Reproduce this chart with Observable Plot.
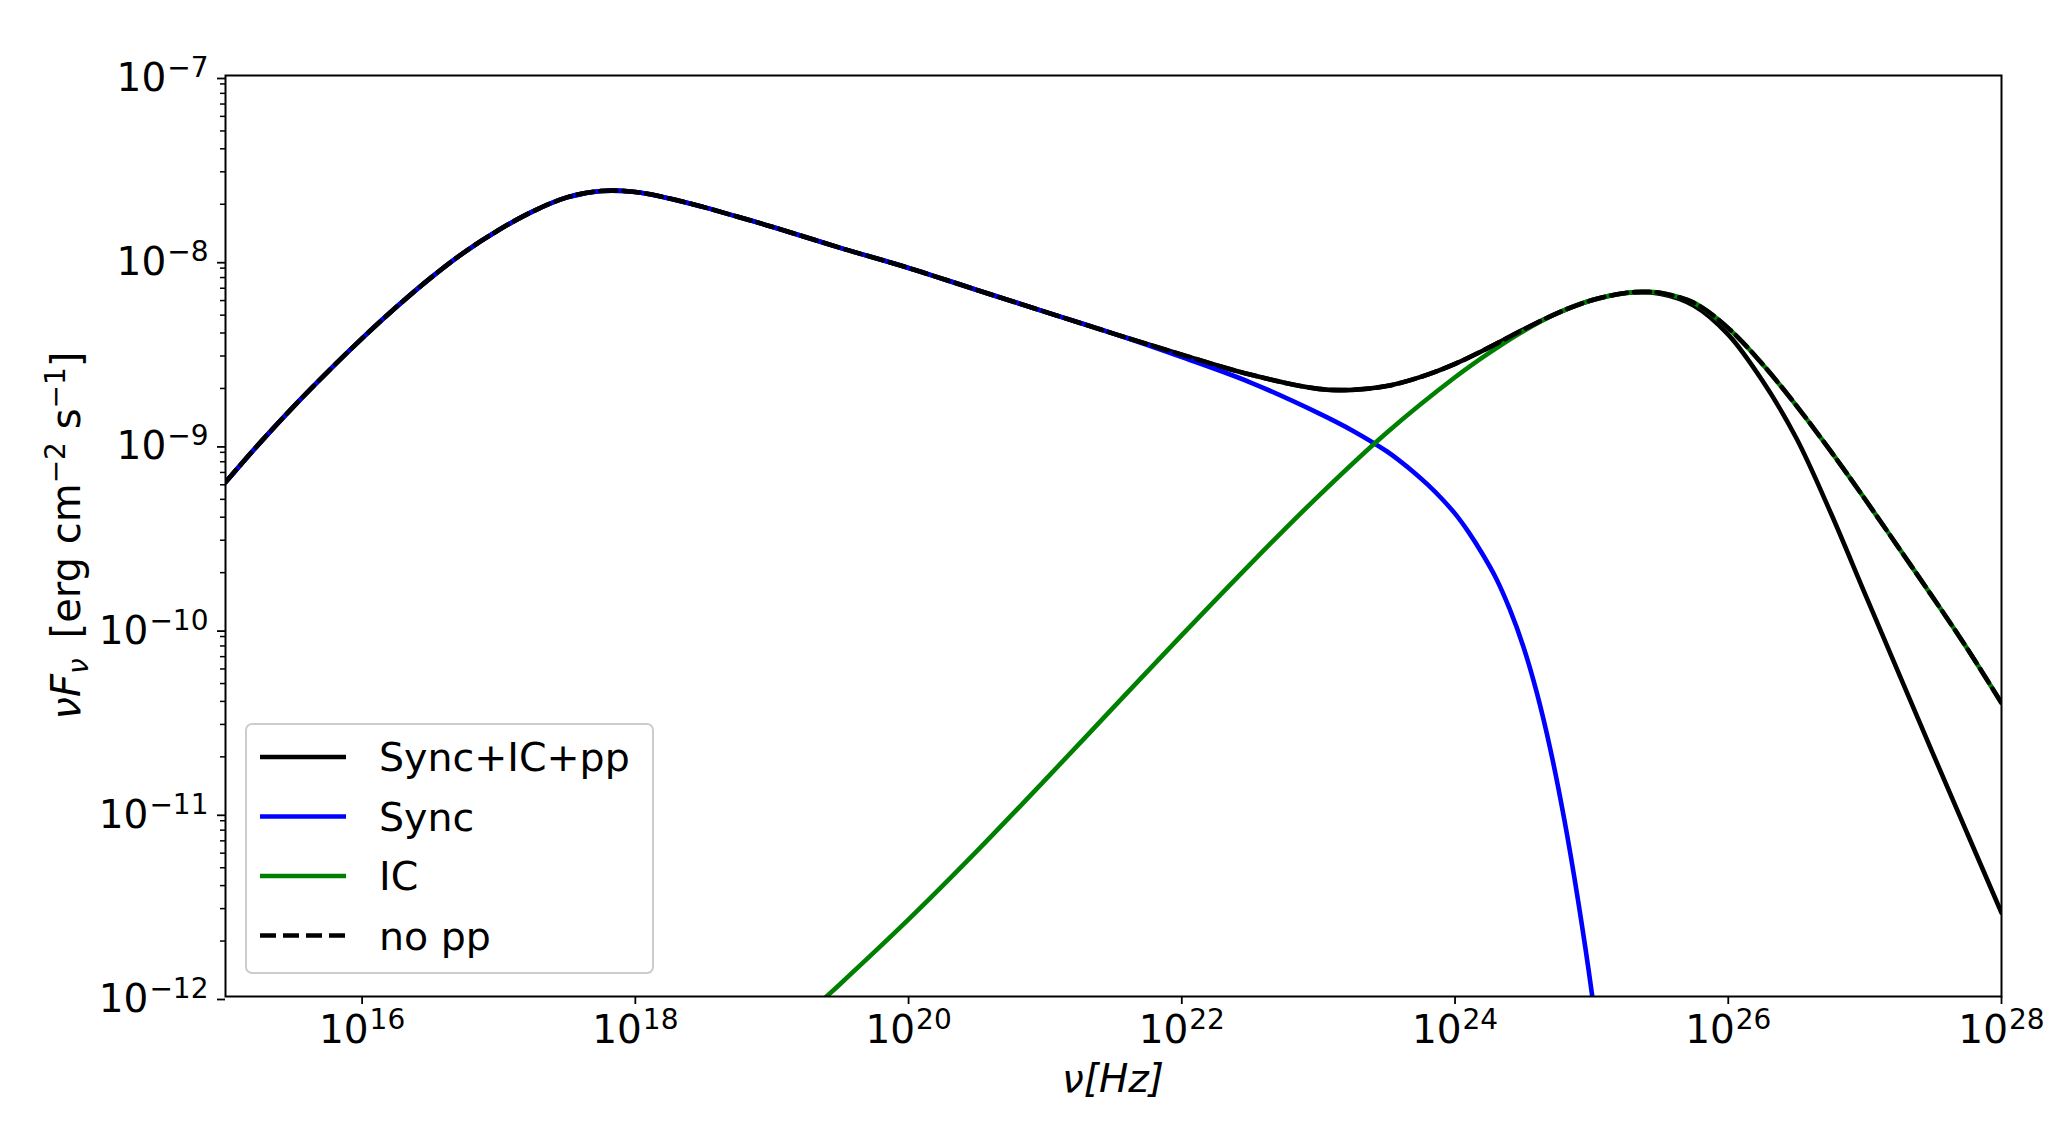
<!DOCTYPE html>
<html>
<head>
<meta charset="utf-8">
<script src="https://cdn.jsdelivr.net/npm/d3@7"></script>
<script src="https://cdn.jsdelivr.net/npm/@observablehq/plot@0.6"></script>
<style>
  html, body { margin: 0; padding: 0; background: #ffffff; }
  #chart { width: 2064px; height: 1128px; }
</style>
</head>
<body>
<div id="chart"></div>
<script>
// ---- axis ticks ----
const xTicks = [1e16, 1e18, 1e20, 1e22, 1e24, 1e26, 1e28];
const yTicks = [1e-12, 1e-11, 1e-10, 1e-9, 1e-8, 1e-7];
const yMinorMantissas = [2, 3, 4, 5, 6, 7, 8, 9];

// ---- series: Sync (blue) ----
const nuSync = [1e15, 1.78e15, 3.16e15, 5.62e15, 1e16, 1.78e16, 3.16e16, 5.62e16, 1e17, 1.78e17, 3.16e17, 5.62e17,
  1e18, 1.78e18, 3.16e18, 5.62e18, 1e19, 3.16e19, 1e20, 3.16e20, 1e21, 3.16e21, 1e22, 3.16e22, 1e23, 1.78e23,
  3.16e23, 3.98e23, 5.01e23, 6.31e23, 7.94e23, 1e24, 1.26e24, 1.58e24, 2.0e24, 2.51e24, 3.16e24, 3.98e24,
  5.01e24, 6.31e24, 7.94e24, 1e25, 1.12e25];
const sync = [6.19e-10, 1.01e-9, 1.60e-9, 2.47e-9, 3.74e-9, 5.53e-9, 7.94e-9, 1.10e-8, 1.45e-8, 1.83e-8, 2.18e-8, 2.36e-8,
  2.33e-8, 2.15e-8, 1.93e-8, 1.71e-8, 1.51e-8, 1.16e-8, 9.02e-9, 6.85e-9, 5.21e-9, 3.97e-9, 2.96e-9, 2.16e-9, 1.47e-9, 1.18e-9,
  9.12e-10, 8.04e-10, 7.00e-10, 6.01e-10, 5.07e-10, 4.18e-10, 3.31e-10, 2.54e-10, 1.86e-10, 1.27e-10, 7.94e-11, 4.42e-11,
  2.16e-11, 9.12e-12, 3.35e-12, 1.06e-12, 5.31e-13];

// ---- series: IC (green) ----
const nuIC = [2.0e19, 3.16e19, 1e20, 3.16e20, 1e21, 3.16e21, 1e22, 3.16e22, 1e23, 3.16e23, 1e24, 1.78e24, 3.16e24,
  5.62e24, 1e25, 1.78e25, 2.51e25, 3.16e25, 5.62e25, 1e26, 1.78e26, 3.16e26, 5.62e26, 1e27, 1.78e27, 3.16e27, 5.62e27, 1e28];
const ic = [8.59e-13, 1.17e-12, 2.62e-12, 6.15e-12, 1.50e-11, 3.71e-11, 9.16e-11, 2.22e-10, 5.21e-10, 1.15e-9, 2.30e-9, 3.12e-9, 4.09e-9,
  5.12e-9, 6.02e-9, 6.60e-9, 6.69e-9, 6.61e-9, 5.83e-9, 4.25e-9, 2.71e-9, 1.61e-9, 9.13e-10, 5.02e-10, 2.71e-10, 1.46e-10, 7.73e-11, 3.92e-11];

// ---- series: Sync+IC+pp (black solid) ----
const nuTotal = [1e15, 1.78e15, 3.16e15, 5.62e15, 1e16, 1.78e16, 3.16e16, 5.62e16, 1e17, 1.78e17, 3.16e17, 5.62e17,
  1e18, 1.78e18, 3.16e18, 5.62e18, 1e19, 3.16e19, 1e20, 3.16e20, 1e21, 3.16e21, 1e22, 3.16e22, 1e23, 1.78e23,
  3.16e23, 5.62e23, 1e24, 1.78e24, 3.16e24, 5.62e24, 1e25, 1.78e25, 3.16e25, 5.62e25, 1e26, 1.78e26, 3.16e26, 5.62e26,
  1e27, 1.78e27, 3.16e27, 5.62e27, 1e28];
const total = [6.19e-10, 1.01e-9, 1.60e-9, 2.47e-9, 3.74e-9, 5.53e-9, 7.94e-9, 1.10e-8, 1.45e-8, 1.83e-8, 2.18e-8, 2.36e-8,
  2.33e-8, 2.15e-8, 1.93e-8, 1.71e-8, 1.51e-8, 1.16e-8, 9.02e-9, 6.85e-9, 5.21e-9, 3.97e-9, 3.05e-9, 2.38e-9, 1.99e-9, 1.965e-9,
  2.06e-9, 2.31e-9, 2.72e-9, 3.34e-9, 4.17e-9, 5.13e-9, 6.02e-9, 6.60e-9, 6.54e-9, 5.63e-9, 3.92e-9, 2.20e-9, 1.07e-9, 4.23e-10,
  1.54e-10, 5.62e-11, 2.07e-11, 7.67e-12, 2.85e-12];

// ---- series: no pp (black dashed) ----
const nuNoPP = [1e15, 1.78e15, 3.16e15, 5.62e15, 1e16, 1.78e16, 3.16e16, 5.62e16, 1e17, 1.78e17, 3.16e17, 5.62e17,
  1e18, 1.78e18, 3.16e18, 5.62e18, 1e19, 3.16e19, 1e20, 3.16e20, 1e21, 3.16e21, 1e22, 3.16e22, 1e23, 1.78e23,
  3.16e23, 5.62e23, 1e24, 1.78e24, 3.16e24, 5.62e24, 1e25, 1.78e25, 2.51e25, 3.16e25, 5.62e25, 1e26, 1.78e26, 3.16e26, 5.62e26,
  1e27, 1.78e27, 3.16e27, 5.62e27, 1e28];
const noPP = [6.19e-10, 1.01e-9, 1.60e-9, 2.47e-9, 3.74e-9, 5.53e-9, 7.94e-9, 1.10e-8, 1.45e-8, 1.83e-8, 2.18e-8, 2.36e-8,
  2.33e-8, 2.15e-8, 1.93e-8, 1.71e-8, 1.51e-8, 1.16e-8, 9.02e-9, 6.85e-9, 5.21e-9, 3.97e-9, 3.05e-9, 2.38e-9, 1.99e-9, 1.965e-9,
  2.06e-9, 2.31e-9, 2.72e-9, 3.34e-9, 4.17e-9, 5.13e-9, 6.02e-9, 6.60e-9, 6.69e-9, 6.61e-9, 5.83e-9, 4.25e-9, 2.71e-9, 1.61e-9, 9.13e-10,
  5.02e-10, 2.71e-10, 1.46e-10, 7.73e-11, 3.92e-11];

// ---- legend ----
const legendLabels = ["Sync+IC+pp", "Sync", "IC", "no pp"];
const legendColors = ["#000000", "#0000ff", "#008000", "#000000"];
const legendDash = [null, null, null, "16,7"];

// ---- build tables ----
const rows = (nu, v) => nu.map((n, i) => ({nu: n, v: v[i]}));
const yMinor = [];
for (let k = -12; k < -7; k++) for (const m of yMinorMantissas) yMinor.push(m * Math.pow(10, k));

const fmt = d => "10^" + Math.round(Math.log10(d));
const lineOpts = {x: "nu", y: "v", strokeWidth: 4.6, curve: "catmull-rom", clip: true};

const chart = Plot.plot({
  width: 2064,
  height: 1128,
  marginLeft: 225,
  marginRight: 63,
  marginTop: 75,
  marginBottom: 132,
  style: {fontFamily: "DejaVu Sans", fontSize: "39px", color: "black", background: "white"},
  x: {type: "log", domain: [1e15, 1e28]},
  y: {type: "log", domain: [1e-12, 1e-7]},
  marks: [
    Plot.line(rows(nuTotal, total), {...lineOpts, stroke: "#000000"}),
    Plot.line(rows(nuSync, sync), {...lineOpts, stroke: "#0000ff"}),
    Plot.line(rows(nuIC, ic), {...lineOpts, stroke: "#008000"}),
    Plot.line(rows(nuNoPP, noPP), {...lineOpts, stroke: "#000000", strokeDasharray: "16,7"}),
    Plot.frame({stroke: "black", strokeWidth: 2}),
    Plot.axisY({ticks: yMinor, tickSize: 5, tickFormat: () => "", strokeWidth: 1.5, label: null}),
    Plot.axisY({ticks: yTicks, tickSize: 8, tickPadding: 9, tickFormat: fmt, dy: 3, fontSize: 39, strokeWidth: 1.8, label: null}),
    Plot.axisX({ticks: xTicks, tickSize: 8, tickPadding: 11, tickFormat: fmt, fontSize: 39, strokeWidth: 1.8, label: null})
  ]
});

document.getElementById("chart").appendChild(chart);

// ---- superscript tick labels ----
const svg = d3.select(chart.tagName.toLowerCase() === "svg" ? chart : chart.querySelector("svg"));
svg.selectAll("text").each(function () {
  const t = this.textContent;
  const m = /^10\^(-?\d+)$/.exec(t);
  if (!m) return;
  const el = d3.select(this);
  el.text(null);
  el.append("tspan").text("10");
  el.append("tspan").attr("dx", 1).attr("dy", -14).attr("font-size", "28px").text(m[1].replace("-", "\u2212"));
});

// ---- axis labels ----
const yl = svg.append("text")
  .attr("transform", "translate(80,535.5) rotate(-90)")
  .attr("text-anchor", "middle")
  .attr("font-family", "DejaVu Sans")
  .attr("font-size", 40)
  .attr("fill", "black");
yl.append("tspan").attr("font-style", "italic").text("\u03bdF");
yl.append("tspan").attr("font-style", "italic").attr("font-size", 28).attr("dy", 8).text("\u03bd");
yl.append("tspan").attr("dy", -8).text("\u2002[erg cm");
yl.append("tspan").attr("font-size", 28).attr("dy", -15).text("\u22122");
yl.append("tspan").attr("dy", 15).text(" s");
yl.append("tspan").attr("font-size", 28).attr("dy", -15).text("\u22121");
yl.append("tspan").attr("dy", 15).text("]");

svg.append("text")
  .attr("x", 1113)
  .attr("y", 1092)
  .attr("text-anchor", "middle")
  .attr("font-family", "DejaVu Sans")
  .attr("font-style", "italic")
  .attr("font-size", 39)
  .attr("fill", "black")
  .text("\u03bd[Hz]");

// ---- legend ----
const lg = svg.append("g");
lg.append("rect")
  .attr("x", 246).attr("y", 724).attr("width", 407).attr("height", 249)
  .attr("rx", 6).attr("fill", "white").attr("fill-opacity", 0.8)
  .attr("stroke", "#cccccc").attr("stroke-width", 2);
legendLabels.forEach((lab, i) => {
  const cy = 757 + i * 59.5;
  lg.append("line")
    .attr("x1", 260).attr("x2", 346).attr("y1", cy).attr("y2", cy)
    .attr("stroke", legendColors[i]).attr("stroke-width", 4.6)
    .attr("stroke-dasharray", legendDash[i]);
  lg.append("text")
    .attr("x", 379).attr("y", cy).attr("dy", "0.36em")
    .attr("text-anchor", "start")
    .attr("font-family", "DejaVu Sans").attr("font-size", 39.5).attr("fill", "black")
    .text(lab);
});
</script>
</body>
</html>
